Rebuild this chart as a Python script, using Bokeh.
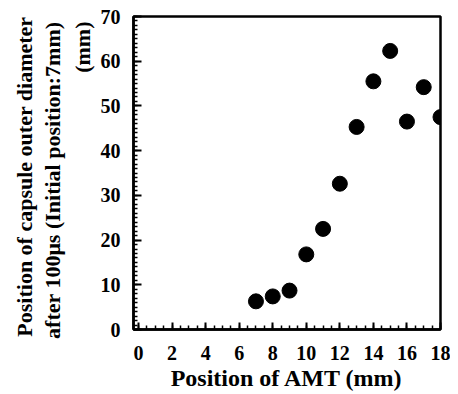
from bokeh.plotting import figure
from bokeh.models import Range1d, FixedTicker, Title, ColumnDataSource
from bokeh.embed import file_html
from bokeh.resources import INLINE

# Data
amt_position = [7, 8, 9, 10, 11, 12, 13, 14, 15, 16, 17, 18]
capsule_position = [6.3, 7.4, 8.7, 16.8, 22.5, 32.6, 45.3, 55.5, 62.3, 46.5, 54.2, 47.5]
x_ticks = [0, 2, 4, 6, 8, 10, 12, 14, 16, 18]
y_ticks = [0, 10, 20, 30, 40, 50, 60, 70]
x_title = "Position of AMT (mm)"
y_title_lines = ["Position of capsule outer diameter",
                 "after 100\u03bcs (Initial position:7mm)",
                 "(mm)"]

FONT = "Liberation Serif"

x0, x1 = -0.3, 18.0
y0, y1 = 0, 70

p = figure(width=458, height=394, output_backend="svg", toolbar_location=None,
           x_range=Range1d(x0, x1), y_range=Range1d(y0, y1),
           min_border_left=133, min_border_right=10, min_border_top=16, min_border_bottom=65)
p.frame_width = 307
p.frame_height = 313

src = ColumnDataSource(dict(x=amt_position, y=capsule_position))
p.scatter("x", "y", source=src, size=15, color="black")

p.xgrid.visible = False
p.ygrid.visible = False
p.outline_line_color = "black"
p.outline_line_width = 2.5

for ax in (p.xaxis[0], p.yaxis[0]):
    ax.axis_line_width = 2.5
    ax.major_tick_line_width = 2
    ax.minor_tick_line_width = 1.5
    ax.major_tick_out = 0
    ax.minor_tick_out = 0
    ax.major_label_text_font = FONT
    ax.major_label_text_font_style = "bold"
    ax.major_label_text_font_size = "20px"
    ax.major_label_text_color = "black"

p.xaxis[0].ticker = FixedTicker(ticks=x_ticks, minor_ticks=[i * 0.5 for i in range(0, 37)])
p.xaxis[0].major_tick_in = 7
p.xaxis[0].minor_tick_in = 4
p.xaxis[0].major_label_standoff = 16

p.yaxis[0].ticker = FixedTicker(ticks=y_ticks, minor_ticks=list(range(0, 71)))
p.yaxis[0].major_tick_in = 8
p.yaxis[0].minor_tick_in = 4
p.yaxis[0].major_label_standoff = 13

# x axis title
p.add_layout(Title(text=x_title, align="center", text_font=FONT, text_font_style="bold",
                   text_font_size="24px", text_color="black", standoff=0), "below")

# y axis title: three rotated lines, inner line first
for line, so, off in zip(reversed(y_title_lines), [5, 1, 1], [5, 5, 0]):
    p.add_layout(Title(text=line, align="right", text_font=FONT, text_font_style="bold",
                       text_font_size="22px", text_color="black", standoff=so, offset=off), "left")

open("out.html", "w").write(file_html(p, INLINE))
